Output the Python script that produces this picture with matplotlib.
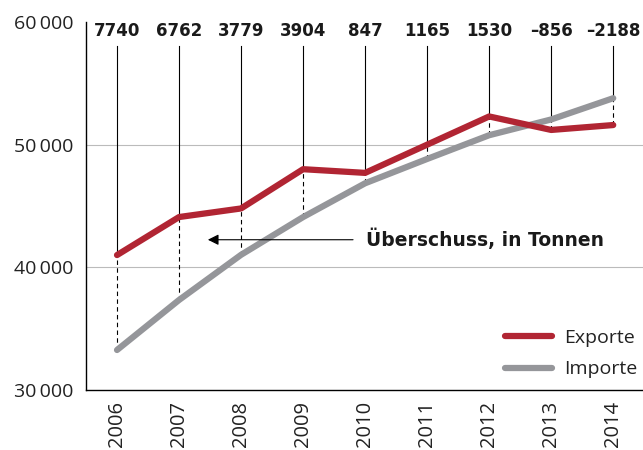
import matplotlib.pyplot as plt

plt.rcParams['font.family'] = ['Open Sans', 'DejaVu Sans']

years = [2006, 2007, 2008, 2009, 2010, 2011, 2012, 2013, 2014]
exporte = [41000, 44100, 44800, 48000, 47700, 50000, 52300, 51200, 51600]
ueberschuss = [7740, 6762, 3779, 3904, 847, 1165, 1530, -856, -2188]
importe = [e - u for e, u in zip(exporte, ueberschuss)]

red = '#b12533'
grey = '#95969a'
bold_font = ['DejaVu Sans']

fig = plt.figure(figsize=(6.43, 4.5), dpi=100)
ax = fig.add_axes([86/643, 1 - 390/450, 1 - 86/643, 368/450])

# connector lines: solid from labels down to upper line, dashed between lines
for x, e, i in zip(years, exporte, importe):
    hi, lo = max(e, i), min(e, i)
    ax.plot([x, x], [58050, hi], color='black', lw=0.8, zorder=1)
    ax.plot([x, x], [lo, hi], color='black', lw=0.8, ls=(0, (4, 3)), zorder=1)

ax.plot(years, exporte, color=red, lw=4.5, solid_capstyle='round', solid_joinstyle='round', label='Exporte', zorder=3)
ax.plot(years, importe, color=grey, lw=4.5, solid_capstyle='round', solid_joinstyle='round', label='Importe', zorder=2)

# surplus values on top
for x, u in zip(years, ueberschuss):
    s = str(u).replace('-', '\u2013')
    ax.text(x, 59300, s, ha='center', va='center', fontsize=12, fontweight='bold',
            family=bold_font, color='#1a1a1a')

ax.annotate('', xy=(2007.42, 42250), xytext=(2009.85, 42250),
            arrowprops=dict(arrowstyle='-|>', color='black', lw=0.8, mutation_scale=16))
ax.text(2010.02, 42250, 'Überschuss, in Tonnen', ha='left', va='center',
        fontsize=13.5, fontweight='bold', family=bold_font, color='#1a1a1a')

ax.set_xlim(2005.5, 2014.48)
ax.set_ylim(30000, 60000)
ax.set_yticks([30000, 40000, 50000, 60000])
ax.set_yticklabels(['30\u2009000', '40\u2009000', '50\u2009000', '60\u2009000'], fontsize=14, color='#222222')
ax.set_xticks(years)
ax.set_xticklabels([str(y) for y in years], rotation=90, fontsize=14.5, color='#222222')
ax.tick_params(length=0, pad=8)
ax.tick_params(axis='y', pad=9)

for y in [40000, 50000]:
    ax.axhline(y, color='#bbbbbb', lw=0.8, zorder=0)

for side in ['top', 'right']:
    ax.spines[side].set_visible(False)
ax.spines['left'].set_linewidth(1.0)
ax.spines['bottom'].set_linewidth(1.0)

leg = ax.legend(loc='lower right', bbox_to_anchor=(1.01, 0.0), frameon=False, fontsize=14,
                handlelength=2.4, handletextpad=0.6, labelspacing=0.7, borderaxespad=0.2)
for t in leg.get_texts():
    t.set_color('#222222')

fig.savefig('out.png', dpi=100)
